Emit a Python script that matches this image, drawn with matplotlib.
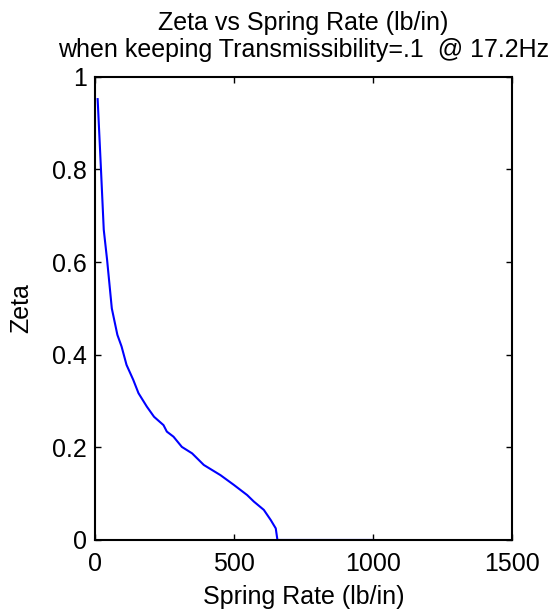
import matplotlib
matplotlib.use('Agg')
import matplotlib.pyplot as plt

# curve
spring_rate = [10, 22, 32, 44, 61, 81, 96, 114, 138, 157, 187, 213, 247, 259, 283,
               313, 350, 392, 452, 500, 548, 572, 608, 633, 651, 657, 1000]
zeta = [0.952, 0.80, 0.67, 0.605, 0.50, 0.443, 0.418, 0.378, 0.346, 0.317, 0.288,
        0.266, 0.248, 0.234, 0.223, 0.201, 0.187, 0.162, 0.140, 0.119, 0.097, 0.083,
        0.065, 0.043, 0.025, 0.0, 0.0]

x_ticks = [0, 500, 1000, 1500]
y_ticks = [0, 0.2, 0.4, 0.6, 0.8, 1]
y_tick_labels = ['0', '0.2', '0.4', '0.6', '0.8', '1']

plt.rcParams['font.family'] = ['Liberation Sans', 'DejaVu Sans']

fig = plt.figure(figsize=(5.58, 6.15), dpi=100)
ax = fig.add_axes([0.170, 0.122, 0.747, 0.753])

ax.plot(spring_rate, zeta, color='#0000ff', linewidth=1.5)

ax.set_xlim(0, 1500)
ax.set_ylim(0, 1)
ax.set_xticks(x_ticks)
ax.set_yticks(y_ticks)
ax.set_yticklabels(y_tick_labels)
ax.tick_params(direction='in', top=True, right=True, labelsize=18, length=4.5, width=1)
ax.tick_params(axis='x', pad=9)
ax.tick_params(axis='y', pad=6)
for s in ax.spines.values():
    s.set_linewidth(1.5)

ax.set_xlabel('Spring Rate (lb/in)', fontsize=18, labelpad=6)
ax.set_ylabel('Zeta', fontsize=18, labelpad=13)
ax.set_title('Zeta vs Spring Rate (lb/in)\nwhen keeping Transmissibility=.1  @ 17.2Hz',
             fontsize=18, linespacing=1.2, pad=14)

fig.savefig('out.png', dpi=100)
